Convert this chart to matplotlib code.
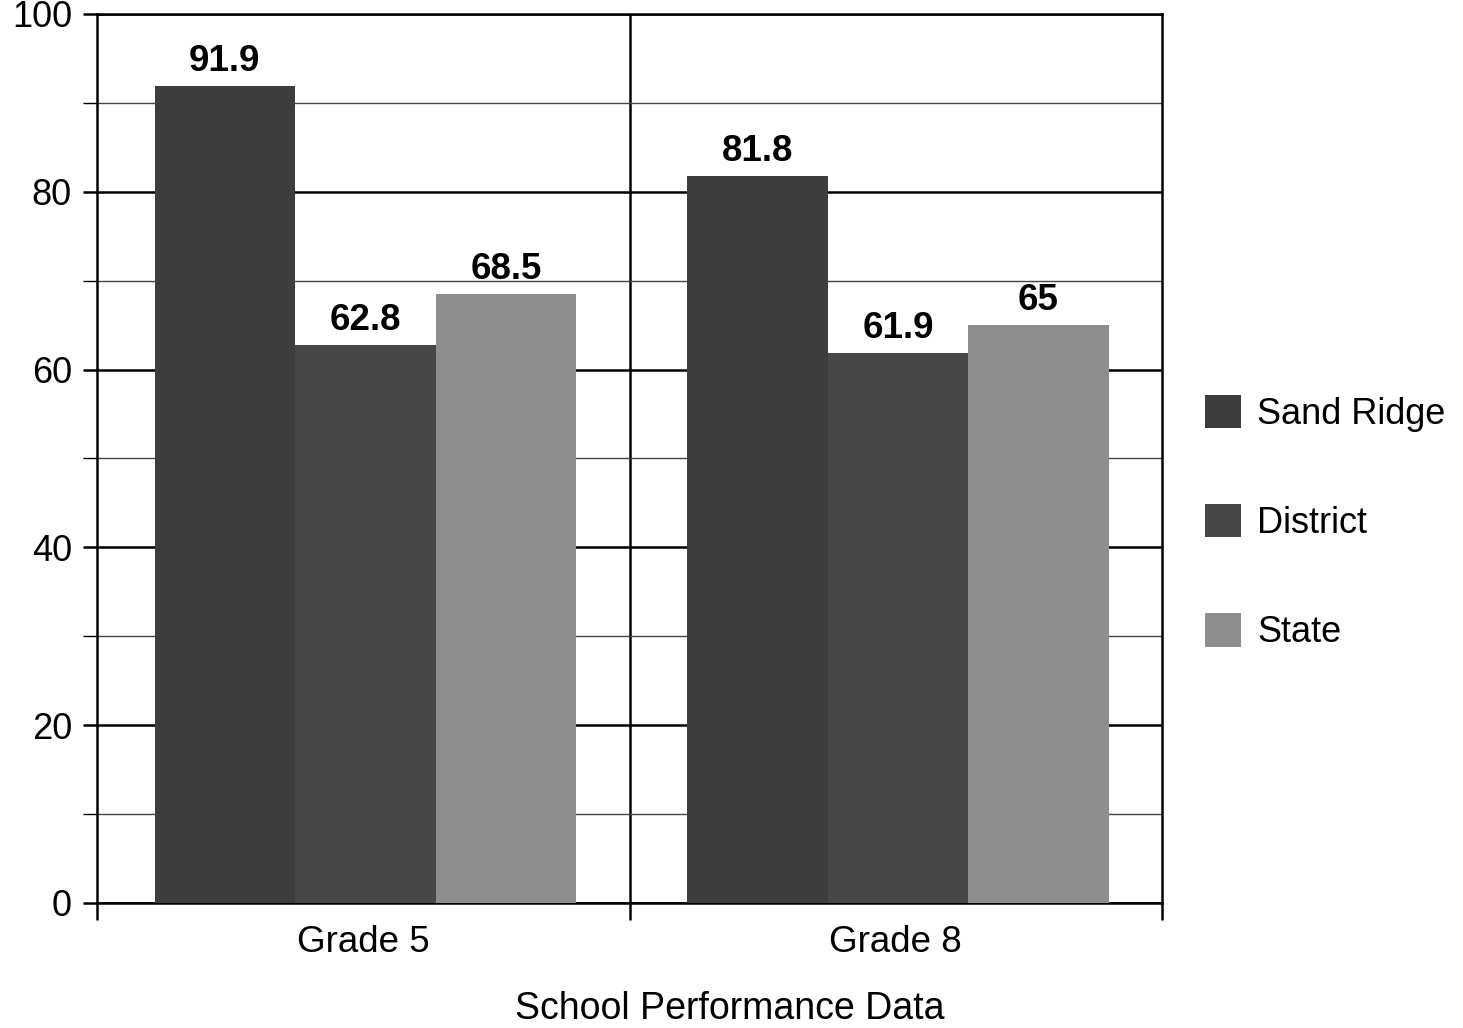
import matplotlib
matplotlib.use('Agg')
import matplotlib.pyplot as plt
import numpy as np

plt.rcParams['font.family'] = ['Liberation Sans', 'DejaVu Sans']

grades = ['Grade 5', 'Grade 8']
series = ['Sand Ridge', 'District', 'State']
sand_ridge = [91.9, 81.8]
district = [62.8, 61.9]
state = [68.5, 65]
bar_colors = ['#3d3d3d', '#474747', '#8e8e8e']

fig = plt.figure(figsize=(14.63, 10.28), dpi=100)
ax = fig.add_axes([0.0663, 0.1216, 0.728, 0.8648])

centers = np.arange(len(grades)) + 0.5
width = 0.264
values = [sand_ridge, district, state]

for i, (name, vals, col) in enumerate(zip(series, values, bar_colors)):
    xs = centers + (i - 1) * width + 0.004
    bars = ax.bar(xs, vals, width=width, color=col, label=name, zorder=3)
    for b, v in zip(bars, vals):
        ax.annotate(f'{v:g}', (b.get_x() + b.get_width() / 2, v),
                    xytext=(0, 5), textcoords='offset points',
                    ha='center', va='bottom', fontsize=26.5, fontweight='bold', zorder=4)

ax.set_xlim(0, 2)
ax.set_ylim(0, 100)

# major / minor gridlines
ax.set_yticks(np.arange(0, 101, 20))
ax.set_yticks(np.arange(10, 100, 20), minor=True)
ax.yaxis.grid(True, which='major', color='black', linewidth=1.8, zorder=0)
ax.yaxis.grid(True, which='minor', color='#444444', linewidth=1.0, zorder=0)
ax.tick_params(axis='y', which='major', length=10, width=1.8, labelsize=26, pad=8)
ax.tick_params(axis='y', which='minor', length=10, width=1.0)

# category separators on the x axis
ax.set_xticks([0, 1, 2])
ax.set_xticklabels([])
ax.set_xticks(centers, minor=True)
ax.set_xticklabels(grades, minor=True, fontsize=26.5)
ax.tick_params(axis='x', which='major', length=12, width=1.8)
ax.tick_params(axis='x', which='minor', length=0, pad=16)
ax.axvline(1, color='black', linewidth=1.8, zorder=1)

for s in ax.spines.values():
    s.set_linewidth(1.8)

fig.text(0.499, 0.018, 'School Performance Data', fontsize=27,
         ha='center', va='center')

ax.legend(loc='center left', bbox_to_anchor=(1.023, 0.428), frameon=False,
          fontsize=26, handlelength=1.0, handleheight=1.05,
          labelspacing=2.0, handletextpad=0.45, borderpad=0)

fig.savefig('out.png', dpi=100)
